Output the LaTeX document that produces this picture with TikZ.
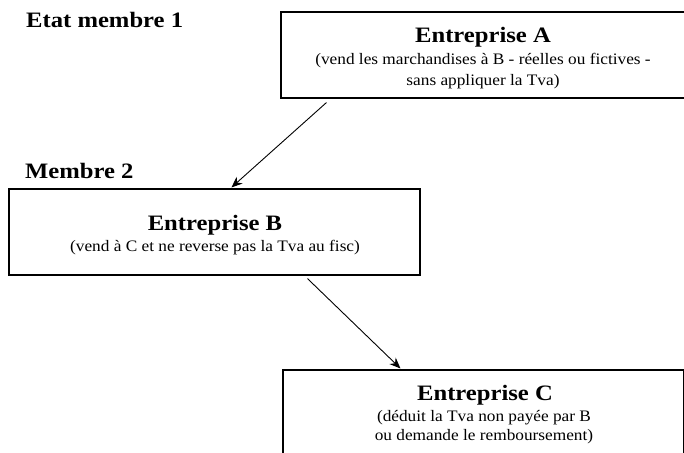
\documentclass[tikz,border=0pt]{standalone}
\usepackage{fontspec}
\setmainfont{Liberation Serif}
\newfontfamily\wideserif[FakeStretch=1.08]{Liberation Serif}
\newfontfamily\widebold[FakeStretch=1.12]{Liberation Serif Bold}
\usetikzlibrary{arrows.meta,calc}
\begin{document}
\begin{tikzpicture}[x=1pt,y=-1pt,
  box/.style={draw, line width=1.1pt, rectangle, inner sep=0pt},
  ttl/.style={font=\fontsize{22}{24}\widebold, inner sep=0pt, anchor=base},
  sub/.style={font=\fontsize{16}{20}\wideserif, inner sep=0pt, anchor=base},
  lbl/.style={font=\fontsize{22}{24}\widebold, inner sep=0pt, anchor=base west},
  conn/.style={line width=0.9pt, -{Stealth[length=11pt,width=9pt]}}]
\useasboundingbox (0,0) rectangle (684,452);
\clip (0,0) rectangle (684,452);
\node[box, minimum width=405pt, minimum height=86pt] (A) at (483.5,55) {};
\node[box, minimum width=411pt, minimum height=86pt] (B) at (214.5,232) {};
\node[box, minimum width=401pt, minimum height=110pt] (C) at (483.5,425) {};
\node[lbl] (l1) at (26,28) {Etat membre 1};
\node[lbl] (l2) at (25,178) {Membre 2};
\node[ttl] (ta) at (483,43) {Entreprise A};
\node[sub] (sa1) at (483,64) {(vend les marchandises à B - réelles ou fictives -};
\node[sub] (sa2) at (483,85) {sans appliquer la Tva)};
\node[ttl] (tb) at (215,230) {Entreprise B};
\node[sub] (sb) at (215,251) {(vend à C et ne reverse pas la Tva au fisc)};
\node[ttl] (tc) at (485,400) {Entreprise C};
\node[sub] (sc1) at (484,421) {(déduit la Tva non payée par B};
\node[sub] (sc2) at (484,440) {ou demande le remboursement)};
\draw[conn] ($(A.south west)+(46,4)$) -- ($(B.north west)+(223,-1)$);
\draw[conn] ($(B.south west)+(299,3)$) -- ($(C.north west)+(118,-1)$);
\end{tikzpicture}
\end{document}
